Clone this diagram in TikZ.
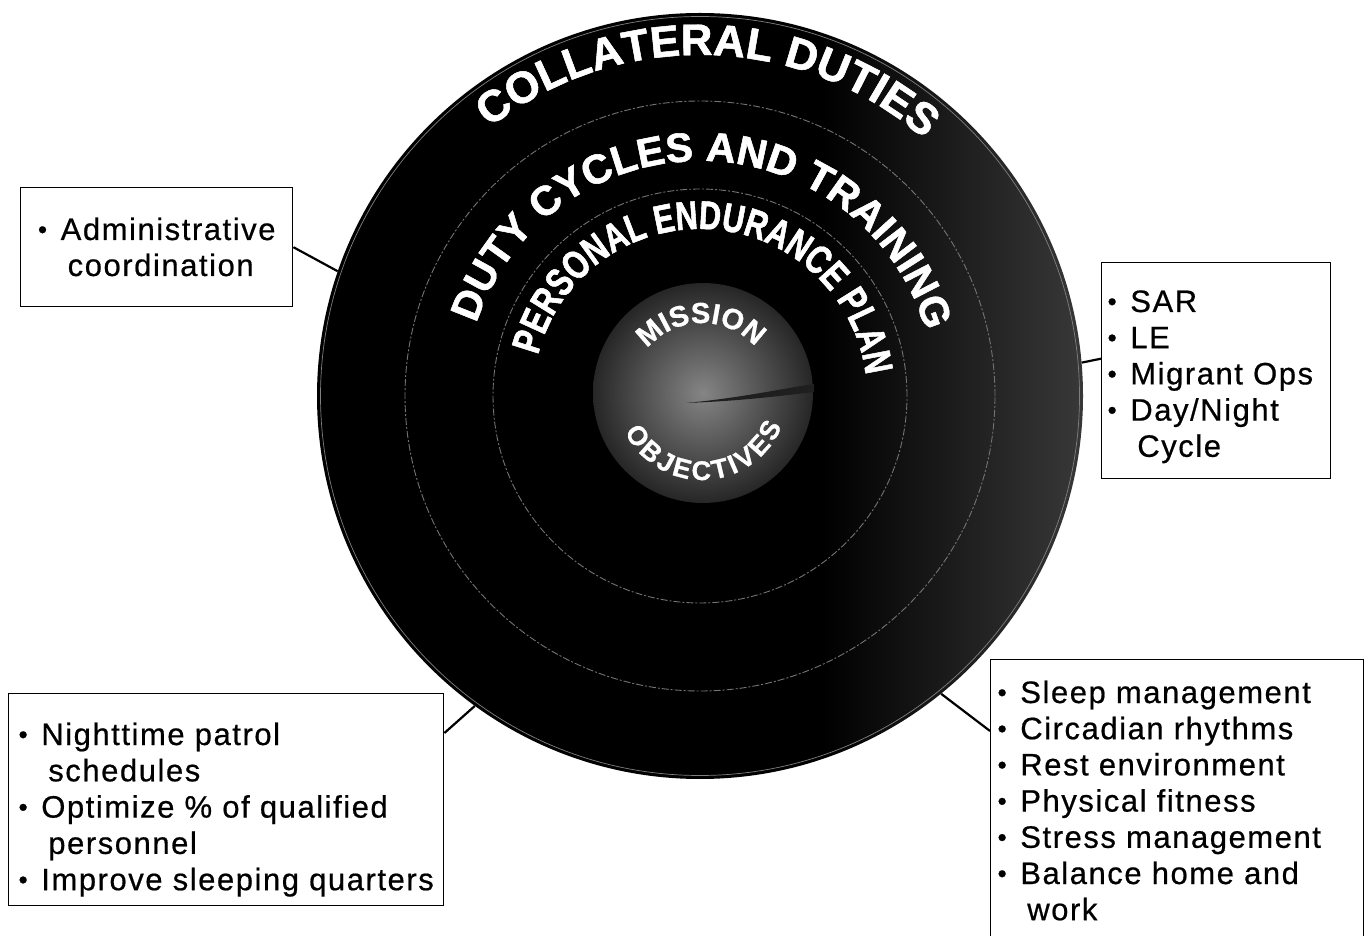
\documentclass[tikz,border=0pt]{standalone}
\usepackage{fontspec}
\setmainfont{Liberation Sans}
\newfontfamily\boxfont{Liberation Sans}[LetterSpace=5, FakeBold=0.6]
\newfontfamily\ringfont{Liberation Sans}[BoldFeatures={FakeBold=1}]
\newfontfamily\ringplain{Liberation Sans}[BoldFeatures={FakeBold=0.3}]
\newfontfamily\ringcond{Liberation Sans}[BoldFeatures={FakeBold=1, FakeStretch=0.76}]
\usetikzlibrary{decorations.text,calc}

% dark disc that turns slightly grey towards its right rim
\pgfdeclarehorizontalshading{ringshade}{100bp}{color(0bp)=(black); color(58bp)=(black); color(75bp)=(black!78!white); color(100bp)=(black!78!white)}

% bullet and hanging indent for the list boxes
\newcommand\bul{\makebox[23.5pt][l]{\hspace*{0.8pt}\raisebox{1.6pt}{\fontsize{26}{26}\selectfont •}}}
\newcommand\ind{\hspace*{30.5pt}}
% extra tracking between letters set along an arc
\newcommand\tk{\kern3pt}

% white lettering with a grey relief, set along a circular arc
% #1 centre, #2 baseline radius, #3 start angle, #4 end angle, #5 font, #6 text
\newcommand\ringlabel[6]{%
  \path[decorate, xshift=1.5pt, yshift=-1.5pt,
        decoration={text along path, text align=center, text={|#5\color{black!45}|#6}}]
    ([shift={(#3:#2)}]#1) arc[start angle=#3, end angle=#4, radius=#2];
  \path[decorate,
        decoration={text along path, text align=center, text={|#5\color{white}|#6}}]
    ([shift={(#3:#2)}]#1) arc[start angle=#3, end angle=#4, radius=#2];
}

\tikzset{
  listbox/.style={draw, line width=1.4pt, inner sep=0, anchor=north west},
  listtext/.style={anchor=base west, inner sep=0, font=\boxfont\fontsize{31}{36}\selectfont},
  link/.style={line width=2.2pt},
  ringline/.style={line width=0.9pt, black!55!white, dash pattern=on 7pt off 2pt on 2pt off 2pt},
}

\begin{document}
\begin{tikzpicture}[x=1pt,y=1pt]
\useasboundingbox (0,0) rectangle (1365,935);

% concentric rings
\coordinate (c) at (700,539);
\coordinate (ci) at (702,541);
\node[circle, minimum size=766, inner sep=0, shade, shading=ringshade] (outer) at (c) {};
\draw[black!50!white, line width=0.7pt] (c) circle[radius=379.5];
\draw[ringline] (c) circle[radius=295];
\draw[ringline] (c) circle[radius=207];

% central disc with its dark streak
\node[circle, minimum size=220, inner sep=0, inner color=black!48, outer color=black!85] (disc) at (703,542) {};
\fill[black!88] (686,532) .. controls (740,537) and (780,546) .. (814,551)
      -- (814,543) .. controls (780,539) and (740,534) .. (686,532) -- cycle;

% ring titles
\ringlabel{c}{341}{178.5}{-1.5}{\ringfont\bfseries\fontsize{44}{44}\selectfont}{COLLATERAL DUTIES}
\ringlabel{c}{235}{179}{-1}{\ringfont\bfseries\fontsize{41}{41}\selectfont}{DUTY CYCLES AND TRAINING}
\ringlabel{c}{167}{176.5}{-3.5}{\ringcond\bfseries\fontsize{40}{40}\selectfont}{PERSONAL ENDURANCE PLAN}
\ringlabel{ci}{71}{181}{1}{\ringplain\bfseries\fontsize{29}{29}\selectfont}{MISSION}
\ringlabel{ci}{86}{182}{362}{\ringplain\bfseries\fontsize{27}{27}\selectfont}{O{\tk}B{\tk}J{\tk}E{\tk}C{\tk}T{\tk}I{\tk}V{\tk}E{\tk}S}

% list boxes
\node[listbox, minimum width=272, minimum height=119] (admin) at (20,748) {};
\node[listtext] (admintxt) at (37,695) {\vtop{\baselineskip=36pt
  \hbox{\bul Administrative}\hbox{\ind coordination}}};

\node[listbox, minimum width=229, minimum height=216] (sar) at (1101,673) {};
\node[listtext] (sartxt) at (1106.6,623) {\vtop{\baselineskip=36.2pt
  \hbox{\bul SAR}\hbox{\bul LE}\hbox{\bul Migrant Ops}\hbox{\bul Day/Night}\hbox{\ind Cycle}}};

\node[listbox, minimum width=435, minimum height=212] (bl) at (8,242) {};
\node[listtext] (bltxt) at (17.6,190) {\vtop{\baselineskip=36.3pt
  \hbox{\bul Nighttime patrol}\hbox{\ind schedules}\hbox{\bul Optimize \% of qualified}%
  \hbox{\ind personnel}\hbox{\bul Improve sleeping quarters}}};

\node[listbox, minimum width=373, minimum height=286] (br) at (990,276) {};
\node[listtext] (brtxt) at (996.6,232) {\vtop{\baselineskip=36.2pt
  \hbox{\bul Sleep management}\hbox{\bul Circadian rhythms}\hbox{\bul Rest environment}%
  \hbox{\bul Physical fitness}\hbox{\bul Stress management}\hbox{\bul Balance home and}%
  \hbox{\ind work}}};

% connectors from the boxes to the rim
\draw[link] (admin.east) -- (outer.161.6);
\draw[link] ([yshift=12]sar.west) -- (outer.5.1);
\draw[link] ([yshift=-40]bl.north east) -- (outer.234.6);
\draw[link] ([yshift=-72]br.north west) -- (outer.309.8);
\end{tikzpicture}
\end{document}
